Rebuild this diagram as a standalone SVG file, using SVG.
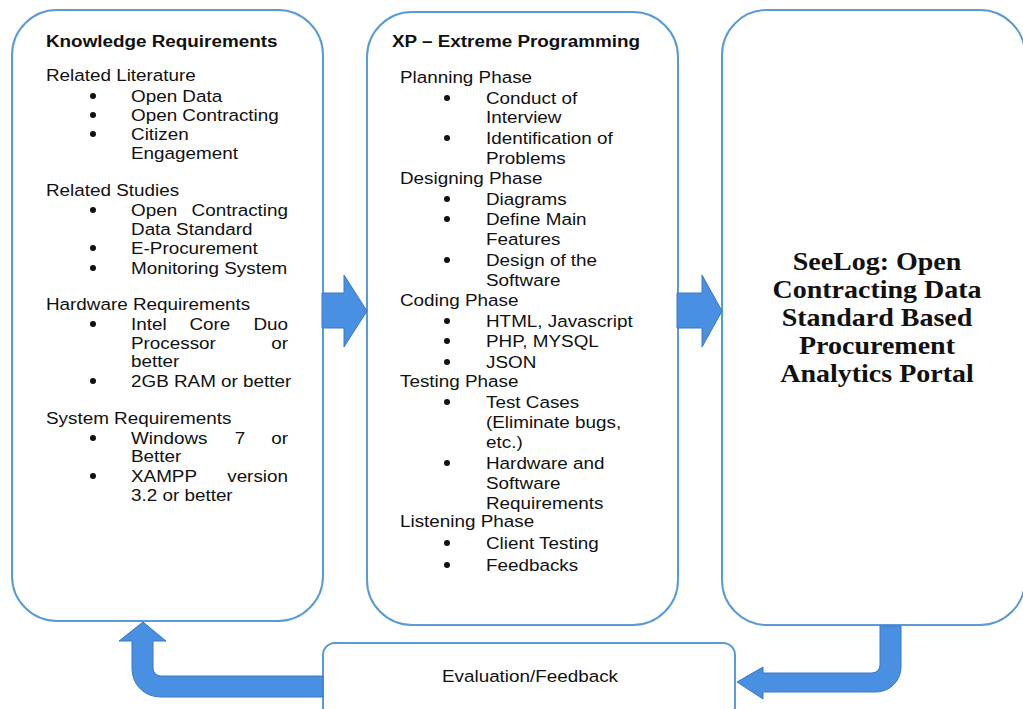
<svg xmlns="http://www.w3.org/2000/svg" width="1023" height="709" viewBox="0 0 1023 709">
<style>
.box{fill:#fff;stroke:#5b9bd5;stroke-width:2}
.arr{fill:#4a90e2;stroke:#3b78c2;stroke-width:1}
.t{font-family:"Liberation Sans",Arial,sans-serif;font-size:17px;fill:#111}
.b{font-weight:bold}
.s{font-family:"Liberation Serif","Times New Roman",serif;font-size:25px;font-weight:bold;fill:#111}
.dot{fill:#111}
.e{text-anchor:end}
.m{text-anchor:middle}
</style>
<rect width="1023" height="709" fill="#fff"/>
<g id="knowledge">
<rect class="box" x="12" y="10" width="311" height="611" rx="45" ry="45"/>
<g>
<circle class="dot" cx="93" cy="96" r="3"/>
<circle class="dot" cx="93" cy="115" r="3"/>
<circle class="dot" cx="93" cy="134" r="3"/>
<circle class="dot" cx="93" cy="210" r="3"/>
<circle class="dot" cx="93" cy="248" r="3"/>
<circle class="dot" cx="93" cy="268" r="3"/>
<circle class="dot" cx="93" cy="324" r="3"/>
<circle class="dot" cx="93" cy="381" r="3"/>
<circle class="dot" cx="93" cy="438" r="3"/>
<circle class="dot" cx="93" cy="476" r="3"/>
</g>
<g class="t" transform="translate(46,0) scale(1.11,1)">
<text class="b" x="0" y="47">Knowledge Requirements</text>
<text x="0" y="81">Related Literature</text>
<text x="76.6" y="102">Open Data</text>
<text x="76.6" y="121">Open Contracting</text>
<text x="76.6" y="140">Citizen</text>
<text x="76.6" y="159">Engagement</text>
<text x="0" y="196">Related Studies</text>
<text x="76.6" y="216">Open</text>
<text class="e" x="218" y="216">Contracting</text>
<text x="76.6" y="235">Data Standard</text>
<text x="76.6" y="254">E-Procurement</text>
<text x="76.6" y="274">Monitoring System</text>
<text x="0" y="310">Hardware Requirements</text>
<text x="76.6" y="330">Intel</text>
<text class="m" x="147.7" y="330">Core</text>
<text class="e" x="218" y="330">Duo</text>
<text x="76.6" y="349">Processor</text>
<text class="e" x="218" y="349">or</text>
<text x="76.6" y="367">better</text>
<text x="76.6" y="387">2GB RAM or better</text>
<text x="0" y="424">System Requirements</text>
<text x="76.6" y="444">Windows</text>
<text class="m" x="174.8" y="444">7</text>
<text class="e" x="218" y="444">or</text>
<text x="76.6" y="462">Better</text>
<text x="76.6" y="482">XAMPP</text>
<text class="e" x="218" y="482">version</text>
<text x="76.6" y="501">3.2 or better</text>
</g>
</g>
<g id="xp">
<rect class="box" x="367" y="12" width="311" height="613" rx="45" ry="45"/>
<g>
<circle class="dot" cx="447" cy="98" r="3"/>
<circle class="dot" cx="447" cy="138" r="3"/>
<circle class="dot" cx="447" cy="199" r="3"/>
<circle class="dot" cx="447" cy="219" r="3"/>
<circle class="dot" cx="447" cy="260" r="3"/>
<circle class="dot" cx="447" cy="321" r="3"/>
<circle class="dot" cx="447" cy="341" r="3"/>
<circle class="dot" cx="447" cy="362" r="3"/>
<circle class="dot" cx="447" cy="402" r="3"/>
<circle class="dot" cx="447" cy="463" r="3"/>
<circle class="dot" cx="447" cy="543" r="3"/>
<circle class="dot" cx="447" cy="565" r="3"/>
</g>
<g class="t" transform="translate(400,0) scale(1.11,1)">
<text class="b" x="-7.2" y="47">XP – Extreme Programming</text>
<text x="0" y="83">Planning Phase</text>
<text x="77.5" y="104">Conduct of</text>
<text x="77.5" y="123">Interview</text>
<text x="77.5" y="144">Identification of</text>
<text x="77.5" y="164">Problems</text>
<text x="0" y="184">Designing Phase</text>
<text x="77.5" y="205">Diagrams</text>
<text x="77.5" y="225">Define Main</text>
<text x="77.5" y="245">Features</text>
<text x="77.5" y="266">Design of the</text>
<text x="77.5" y="286">Software</text>
<text x="0" y="306">Coding Phase</text>
<text x="77.5" y="327">HTML, Javascript</text>
<text x="77.5" y="347">PHP, MYSQL</text>
<text x="77.5" y="368">JSON</text>
<text x="0" y="387">Testing Phase</text>
<text x="77.5" y="408">Test Cases</text>
<text x="77.5" y="428">(Eliminate bugs,</text>
<text x="77.5" y="448">etc.)</text>
<text x="77.5" y="469">Hardware and</text>
<text x="77.5" y="489">Software</text>
<text x="77.5" y="509">Requirements</text>
<text x="0" y="527">Listening Phase</text>
<text x="77.5" y="549">Client Testing</text>
<text x="77.5" y="571">Feedbacks</text>
</g>
</g>
<g id="seelog">
<rect class="box" x="722" y="10" width="303" height="615" rx="45" ry="45"/>
<g class="s" text-anchor="middle" transform="translate(877,0) scale(1.12,1)">
<text x="0" y="270">SeeLog: Open</text>
<text x="0" y="298">Contracting Data</text>
<text x="0" y="326">Standard Based</text>
<text x="0" y="354">Procurement</text>
<text x="0" y="382">Analytics Portal</text>
</g>
</g>
<g id="evaluation">
<rect class="box" x="323" y="643" width="412" height="80" rx="12" ry="12"/>
<g class="t" text-anchor="middle" transform="translate(530,0) scale(1.11,1)">
<text x="0" y="682">Evaluation/Feedback</text>
</g>
</g>
<g id="connectors">
<path class="arr" d="M322,293 L344,293 L344,275 L367,311 L344,347 L344,328 L322,328 Z"/>
<path class="arr" d="M677,293 L702,293 L702,275 L722,311 L702,347 L702,328 L677,328 Z"/>
<path class="arr" d="M880,626 L901,626 L901,667 A25,25 0 0 1 876,692 L763,692 L763,699 L737,682 L763,667 L763,673 L872,673 A8,8 0 0 0 880,665 Z"/>
<path class="arr" d="M143,622 L166,641 L153,641 L153,668 A8,8 0 0 0 161,676 L323,676 L323,697 L160,697 A28,28 0 0 1 132,669 L132,641 L119,641 Z"/>
</g>
</svg>
